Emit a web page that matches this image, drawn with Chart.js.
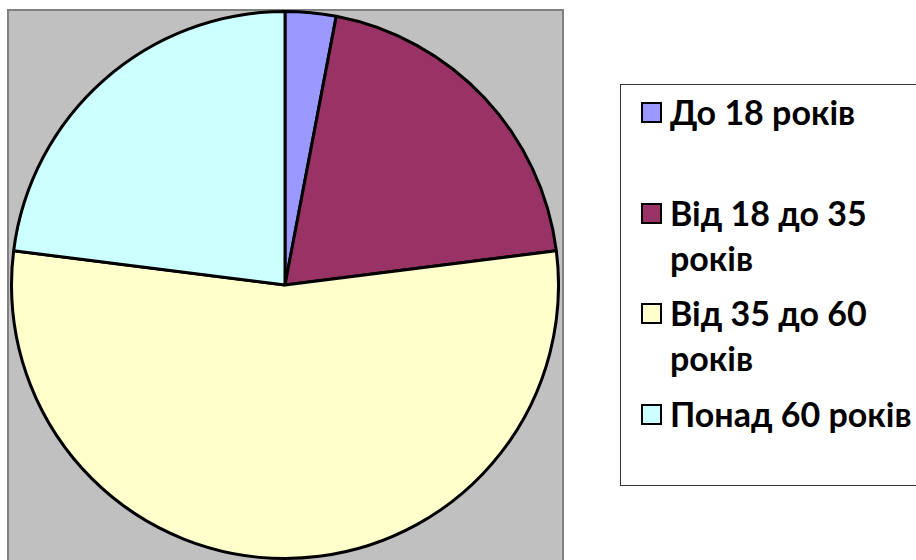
<!DOCTYPE html>
<html>
<head>
<meta charset="utf-8">
<script src="https://cdn.jsdelivr.net/npm/chart.js@4"></script>
<style>
    html, body { margin: 0; padding: 0; background: #ffffff; overflow: hidden; }
    body { width: 916px; height: 560px; position: relative; }
    #areaGrafico {
        position: absolute; left: 7px; top: 9px; width: 557px; height: 600px;
        box-sizing: border-box; background: #C0C0C0; border: 2px solid #808080;
    }
    #caixaPizza { position: absolute; left: 10px; top: 10px; width: 550px; height: 550px; }
    #legenda {
        position: absolute; left: 620px; top: 84px; width: 400px; height: 402px;
        box-sizing: border-box; border: 1px solid #333333; background: #ffffff;
    }
    .item-legenda {
        position: absolute; left: 20px; width: 300px;
        font-family: 'Lato', sans-serif; font-weight: 700; font-size: 34px;
        line-height: 45px; color: #000000;
    }
    .item-legenda .quadrado {
        position: absolute; left: 0; top: 13px; width: 21px; height: 21px;
        box-sizing: border-box; border: 2px solid #000000;
    }
    .item-legenda .texto { margin-left: 29px; width: 262px; }
</style>
</head>
<body>
<div id="areaGrafico"></div>
<div id="caixaPizza"><canvas id="graficoIdade"></canvas></div>
<div id="legenda"></div>
<script>
// dados do grafico
const categorias = ['До 18 років', 'Від 18 до 35 років', 'Від 35 до 60 років', 'Понад 60 років'];
const percentuais = [3, 20, 54, 23];
const coresFatias = ['#9999FF', '#993366', '#FFFFCC', '#CCFFFF'];

const ctx = document.getElementById('graficoIdade');

const graficoIdade = new Chart(ctx, {
    type: 'pie',
    data: {
        labels: categorias,
        datasets: [{
            data: percentuais,
            backgroundColor: coresFatias,
            borderColor: '#000000',
            borderWidth: 3
        }]
    },
    options: {
        responsive: true,
        maintainAspectRatio: false,
        animation: false,
        layout: { padding: 0 },
        plugins: {
            legend: { display: false },
            tooltip: { enabled: false }
        }
    }
});

// legenda em html, montada a partir do grafico
const legenda = document.getElementById('legenda');
graficoIdade.data.labels.forEach((label, i) => {
    const item = document.createElement('div');
    item.className = 'item-legenda';
    item.style.top = (4 + i * 100.7) + 'px';

    const quadrado = document.createElement('span');
    quadrado.className = 'quadrado';
    quadrado.style.background = graficoIdade.data.datasets[0].backgroundColor[i];

    const texto = document.createElement('div');
    texto.className = 'texto';
    texto.textContent = label;

    item.appendChild(quadrado);
    item.appendChild(texto);
    legenda.appendChild(item);
});
</script>
</body>
</html>
